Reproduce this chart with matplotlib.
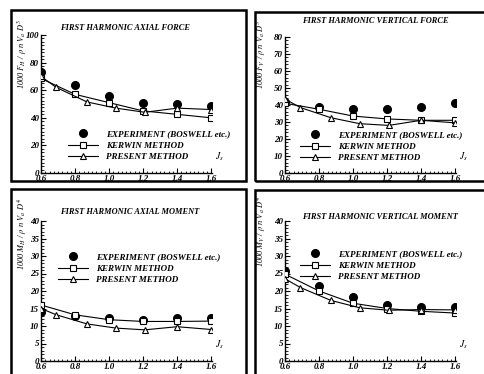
import matplotlib
matplotlib.use("Agg")
import matplotlib.pyplot as plt
from matplotlib.patches import Rectangle
from matplotlib.ticker import MultipleLocator, FixedLocator
from matplotlib.lines import Line2D

plt.rcParams['font.family'] = ['Liberation Serif', 'DejaVu Serif']
plt.rcParams['mathtext.fontset'] = 'stix'

W, H = 484, 374

# ---------------- data ----------------
J_exp = [0.6, 0.8, 1.0, 1.2, 1.4, 1.6]
J_kerwin = [0.6, 0.8, 1.0, 1.2, 1.4, 1.6]
J_present = [0.6, 0.69, 0.87, 1.04, 1.21, 1.4, 1.6]

axial_force_exp = [73.5, 63.5, 56.0, 51.0, 50.0, 48.5]
axial_force_kerwin = [68.5, 57.0, 51.0, 45.0, 42.5, 40.0]
axial_force_present = [70.0, 62.0, 51.5, 47.0, 44.0, 47.0, 46.0]

vert_force_exp = [41.5, 39.0, 37.5, 37.5, 39.0, 41.0]
vert_force_kerwin = [41.0, 37.5, 33.5, 31.8, 31.0, 31.0]
vert_force_present = [43.5, 38.5, 32.5, 29.0, 28.0, 31.0, 29.5]

axial_moment_exp = [14.0, 13.0, 12.2, 11.7, 12.2, 12.2]
axial_moment_kerwin = [16.0, 13.2, 11.8, 11.3, 11.3, 11.4]
axial_moment_present = [15.0, 13.2, 10.6, 9.4, 8.9, 9.8, 9.0]

vert_moment_exp = [25.8, 21.5, 18.4, 16.0, 15.5, 15.5]
vert_moment_kerwin = [24.8, 20.0, 16.5, 15.0, 14.2, 13.7]
vert_moment_present = [23.5, 21.0, 17.3, 15.2, 14.5, 14.7, 14.6]

titles = ["FIRST HARMONIC AXIAL FORCE", "FIRST HARMONIC VERTICAL FORCE",
          "FIRST HARMONIC AXIAL MOMENT", "FIRST HARMONIC VERTICAL MOMENT"]
ylabels = ["1000 $F_H$ / $\\rho$ n $V_a$ $D^3$", "1000 $F_V$ / $\\rho$ n $V_a$ $D^3$",
           "1000 $M_H$ / $\\rho$ n $V_a$ $D^4$", "1000 $M_V$ / $\\rho$ n $V_a$ $D^4$"]
legend_labels = ["EXPERIMENT (BOSWELL etc.)", "KERWIN METHOD", "PRESENT METHOD"]
xticks = [0.6, 0.8, 1.0, 1.2, 1.4, 1.6]
xticklabels = ["0.6", "0.8", "1.0", "1.2", "1.4", "1.6"]

panels = [
    dict(exp=axial_force_exp, ker=axial_force_kerwin, pre=axial_force_present,
         ymax=100, major=20, minor=2.5, ax=(41, 35, 212, 173),
         title=(60, 28), ylab=(22, 54), leg=(68, 130), box=(11, 10, 246, 181)),
    dict(exp=vert_force_exp, ker=vert_force_kerwin, pre=vert_force_present,
         ymax=80, major=10, minor=2, ax=(285, 37, 456, 173),
         title=(302, 21), ylab=(261, 54), leg=(300, 131), box=(255, 12, 490, 181)),
    dict(exp=axial_moment_exp, ker=axial_moment_kerwin, pre=axial_moment_present,
         ymax=40, major=5, minor=1, ax=(41, 221, 212, 361),
         title=(60, 212), ylab=(22, 234), leg=(58, 253), box=(11, 189, 246, 380)),
    dict(exp=vert_moment_exp, ker=vert_moment_kerwin, pre=vert_moment_present,
         ymax=40, major=5, minor=1, ax=(285, 221, 456, 361),
         title=(302, 217), ylab=(261, 231), leg=(300, 250), box=(255, 190, 490, 380)),
]

fig = plt.figure(figsize=(W / 100, H / 100), dpi=100)
fig.patch.set_facecolor('white')

tick_font = dict(family='Liberation Serif', style='italic', weight='bold', size=6.5)

for i, p in enumerate(panels):
    x0, y0, x1, y1 = p['ax']
    ax = fig.add_axes([x0 / W, 1 - y1 / H, (x1 - x0) / W, (y1 - y0) / H])
    ax.set_facecolor('none')
    ax.plot(J_exp, p['exp'], 'o', color='black', ms=5.5, zorder=2, label=legend_labels[0])
    ax.plot(J_kerwin, p['ker'], '-s', color='black', mfc='white', mec='black',
            ms=4.8, lw=0.8, mew=0.8, zorder=3, label=legend_labels[1])
    ax.plot(J_present, p['pre'], '-^', color='black', mfc='white', mec='black',
            ms=5, lw=0.8, mew=0.8, zorder=3, label=legend_labels[2])
    ax.set_xlim(0.6, 1.605)
    ax.set_ylim(0, p['ymax'])
    for s in ['top', 'right']:
        ax.spines[s].set_visible(False)
    for s in ['left', 'bottom']:
        ax.spines[s].set_linewidth(1.0)
    ax.xaxis.set_major_locator(FixedLocator(xticks))
    ax.set_xticklabels(xticklabels, fontdict=tick_font)
    ax.xaxis.set_minor_locator(MultipleLocator(0.025))
    ax.yaxis.set_major_locator(MultipleLocator(p['major']))
    ax.yaxis.set_minor_locator(MultipleLocator(p['minor']))
    for lab in ax.get_yticklabels():
        lab.set_fontproperties(matplotlib.font_manager.FontProperties(**tick_font))
    ax.tick_params(which='major', direction='in', length=3.5, width=0.8, pad=1.5)
    ax.tick_params(which='minor', direction='in', length=1.8, width=0.6)
    ax.text(1.045, 0.07, "$J_s$", transform=ax.transAxes, fontsize=7,
            ha='center', va='bottom')

    lx, ly = p['leg']
    leg = ax.legend(loc='upper left', bbox_to_anchor=(lx / W, 1 - ly / H),
                    bbox_transform=fig.transFigure, frameon=False, borderpad=0,
                    borderaxespad=0, handlelength=3.3, handletextpad=0.9,
                    labelspacing=0.35,
                    prop=dict(family='Liberation Serif', style='italic',
                              weight='bold', size=6.5))

    tx, ty = p['title']
    fig.text(tx / W, 1 - ty / H, titles[i], ha='left', va='center',
             family='Liberation Serif', style='italic', weight='bold', size=6)
    yx, yy = p['ylab']
    fig.text(yx / W, 1 - yy / H, ylabels[i], rotation=90, ha='center', va='center',
             family='Liberation Serif', style='italic', size=6)

    bx0, by0, bx1, by1 = p['box']
    fig.add_artist(Rectangle((bx0 / W, 1 - by1 / H), (bx1 - bx0) / W, (by1 - by0) / H,
                             transform=fig.transFigure, fill=False, lw=1.8,
                             edgecolor='black'))

fig.savefig("out.png", dpi=100)
